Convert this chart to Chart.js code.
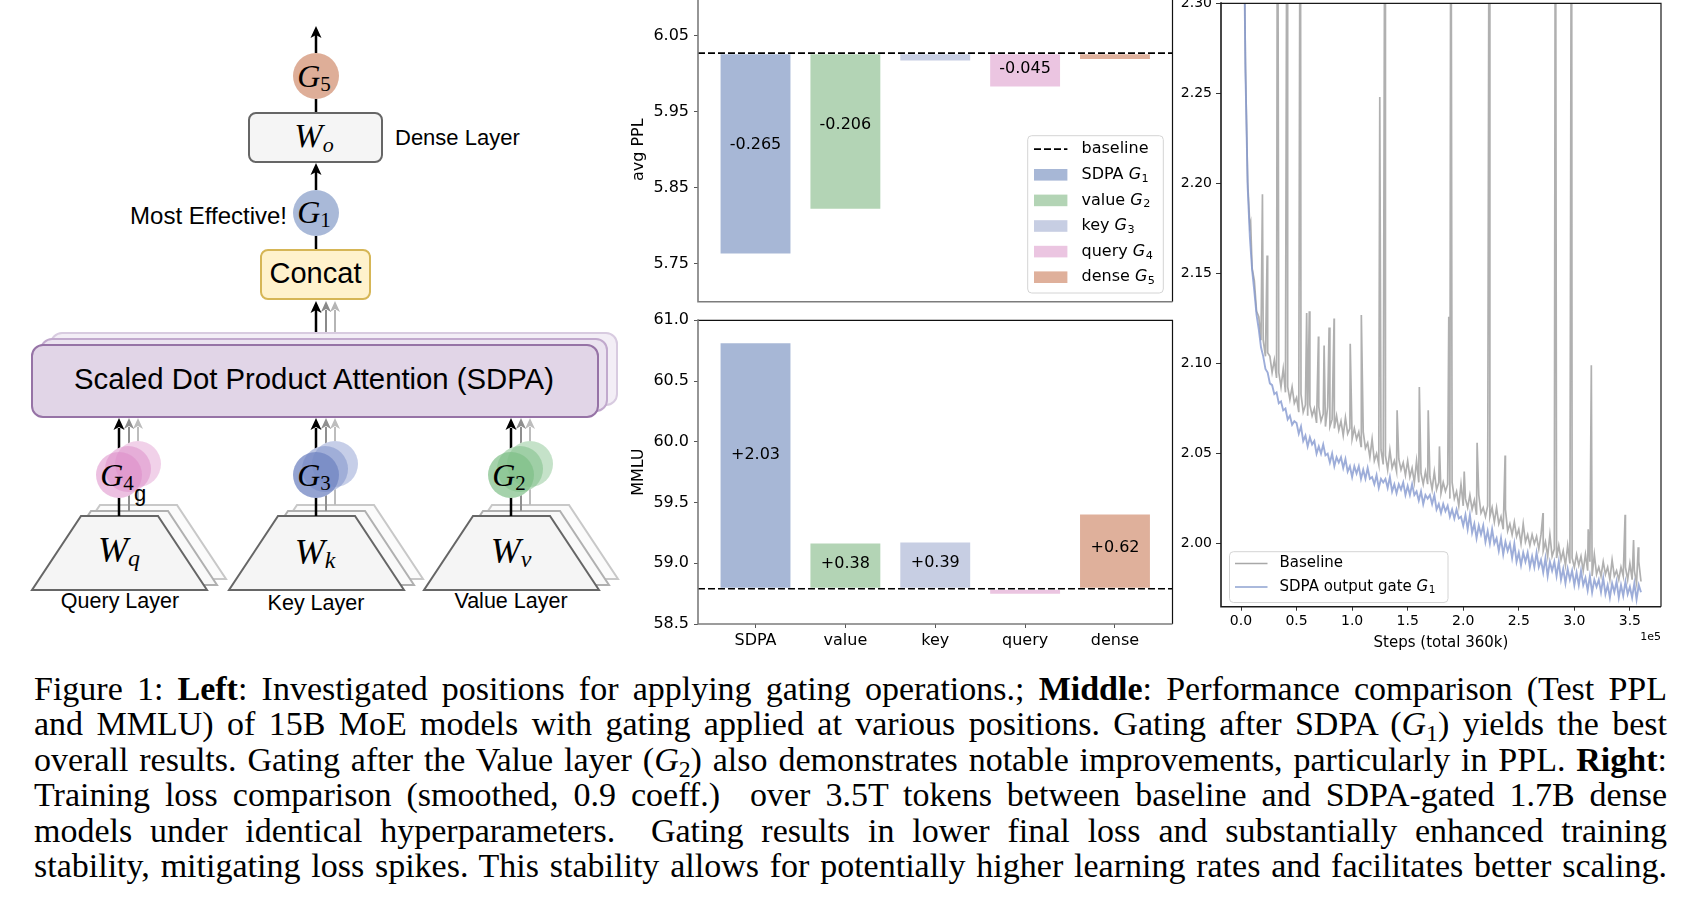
<!DOCTYPE html>
<html><head><meta charset="utf-8">
<script src="https://cdn.jsdelivr.net/npm/chart.js@4.4.1/dist/chart.umd.min.js"></script>
<style>
html,body{margin:0;padding:0;background:#fff;}
body{width:1704px;height:914px;position:relative;overflow:hidden;}
.cv{position:absolute;display:block;}
.ln{position:absolute;left:34px;white-space:pre;font-family:"Liberation Serif","Times New Roman",serif;color:#000;line-height:1;}
.ln sub{font-size:0.7em;vertical-align:-0.25em;line-height:0;}
</style></head><body>

<svg width="640" height="640" viewBox="0 0 640 640" style="position:absolute;left:0;top:0" font-family="'Liberation Sans',Arial,sans-serif">
  <!-- top output arrow -->
  <line x1="316" y1="53" x2="316" y2="34" stroke="#000" stroke-width="2.5"/>
  <polygon points="316,26 310.5,38 316,35 321.5,38" fill="#000"/>
  <circle cx="316" cy="76" r="23" fill="#deae98"/>
  <text x="314" y="87" text-anchor="middle" font-family="'Liberation Serif',serif"><tspan font-style="italic" font-size="32">G</tspan><tspan font-size="21" dy="4">5</tspan></text>
  <line x1="316" y1="99" x2="316" y2="113" stroke="#000" stroke-width="2.5"/>
  <rect x="249" y="113" width="133" height="49" rx="7" fill="#f5f5f5" stroke="#666" stroke-width="2"/>
  <text x="314" y="147" text-anchor="middle" font-family="'Liberation Serif',serif" font-style="italic"><tspan font-size="34">W</tspan><tspan font-size="22" dy="5">o</tspan></text>
  <text x="395" y="145" font-size="22">Dense Layer</text>
  <!-- G1 -->
  <line x1="316" y1="190" x2="316" y2="171" stroke="#000" stroke-width="2.5"/>
  <polygon points="316,163 310.5,175 316,172 321.5,175" fill="#000"/>
  <circle cx="316" cy="213" r="23" fill="#a9b9d8"/>
  <text x="314" y="223" text-anchor="middle" font-family="'Liberation Serif',serif"><tspan font-style="italic" font-size="32">G</tspan><tspan font-size="21" dy="4">1</tspan></text>
  <text x="287" y="224" text-anchor="end" font-size="24">Most Effective!</text>
  <line x1="316" y1="236" x2="316" y2="250" stroke="#000" stroke-width="2.5"/>
  <rect x="261" y="250" width="109" height="49" rx="7" fill="#fff2cc" stroke="#d6b656" stroke-width="2"/>
  <text x="315.5" y="283" text-anchor="middle" font-size="29">Concat</text>
  <!-- arrows from SDPA to concat -->
  <line x1="335" y1="333" x2="335" y2="310" stroke="#b5b5b5" stroke-width="2"/>
  <polygon points="335,301 330,312 335,309 340,312" fill="#b5b5b5"/>
  <line x1="326" y1="339" x2="326" y2="310" stroke="#8a8a8a" stroke-width="2"/>
  <polygon points="326,301 321,312 326,309 331,312" fill="#8a8a8a"/>
  <line x1="316" y1="345" x2="316" y2="310" stroke="#000" stroke-width="2.5"/>
  <polygon points="316,301 310.5,313 316,310 321.5,313" fill="#000"/>
  <!-- SDPA boxes -->
  <rect x="51" y="333" width="566" height="72" rx="11" fill="#f3eef6" stroke="#d8cbe0" stroke-width="2"/>
  <rect x="41" y="339" width="566" height="72" rx="11" fill="#ebe3f0" stroke="#c1a9cd" stroke-width="2"/>
  <rect x="32" y="345" width="566" height="72" rx="11" fill="#e1d5e7" stroke="#9673a6" stroke-width="2"/>
  <text x="314" y="389" text-anchor="middle" font-size="29.3">Scaled Dot Product Attention (SDPA)</text>

  <!-- Query branch -->
  <polygon points="50,579 226,579 177,505 100,505" fill="#fbfbfb" stroke="#c8c8c8" stroke-width="2"/>
  <polygon points="41,585 217,585 168,511 91,511" fill="#f9f9f9" stroke="#b0b0b0" stroke-width="2"/>
  <line x1="138" y1="505" x2="138" y2="427" stroke="#bdbdbd" stroke-width="2"/>
  <polygon points="138,418 133,429 138,426 143,429" fill="#bdbdbd"/>
  <line x1="129" y1="511" x2="129" y2="427" stroke="#8f8f8f" stroke-width="2"/>
  <polygon points="129,418 124,429 129,426 134,429" fill="#8f8f8f"/>
  <polygon points="32,590 207,590 158,516 81,516" fill="#f5f5f5" stroke="#666" stroke-width="2"/>
  <line x1="119" y1="516" x2="119" y2="428" stroke="#000" stroke-width="2.5"/>
  <polygon points="119,418 113.5,430 119,427 124.5,430" fill="#000"/>
  <g>
    <circle cx="138" cy="464" r="23" fill="#fff"/><circle cx="128" cy="469" r="23" fill="#fff"/><circle cx="119" cy="475" r="23" fill="#fff"/>
    <circle cx="138" cy="464" r="23" fill="#dc8cc8" fill-opacity="0.4"/>
    <circle cx="128" cy="469" r="23" fill="#dc8cc8" fill-opacity="0.5"/>
    <circle cx="119" cy="475" r="23" fill="#dc8cc8" fill-opacity="0.55"/>
  </g>
  <text x="117" y="486" text-anchor="middle" font-family="'Liberation Serif',serif"><tspan font-style="italic" font-size="32">G</tspan><tspan font-size="21" dy="4">4</tspan></text>
  <text x="140" y="501" text-anchor="middle" font-size="22">g</text>
  <text x="119" y="562" text-anchor="middle" font-family="'Liberation Serif',serif" font-style="italic"><tspan font-size="36">W</tspan><tspan font-size="24" dy="4">q</tspan></text>
  <text x="120" y="608" text-anchor="middle" font-size="21.5">Query Layer</text>

  <!-- Key branch -->
  <polygon points="247,579 423,579 374,505 297,505" fill="#fbfbfb" stroke="#c8c8c8" stroke-width="2"/>
  <polygon points="238,585 414,585 365,511 288,511" fill="#f9f9f9" stroke="#b0b0b0" stroke-width="2"/>
  <line x1="335" y1="505" x2="335" y2="427" stroke="#bdbdbd" stroke-width="2"/>
  <polygon points="335,418 330,429 335,426 340,429" fill="#bdbdbd"/>
  <line x1="326" y1="511" x2="326" y2="427" stroke="#8f8f8f" stroke-width="2"/>
  <polygon points="326,418 321,429 326,426 331,429" fill="#8f8f8f"/>
  <polygon points="229,590 404,590 355,516 278,516" fill="#f5f5f5" stroke="#666" stroke-width="2"/>
  <line x1="316" y1="516" x2="316" y2="428" stroke="#000" stroke-width="2.5"/>
  <polygon points="316,418 310.5,430 316,427 321.5,430" fill="#000"/>
  <g>
    <circle cx="335" cy="464" r="23" fill="#fff"/><circle cx="325" cy="469" r="23" fill="#fff"/><circle cx="316" cy="475" r="23" fill="#fff"/>
    <circle cx="335" cy="464" r="23" fill="#8193cb" fill-opacity="0.45"/>
    <circle cx="325" cy="469" r="23" fill="#8193cb" fill-opacity="0.55"/>
    <circle cx="316" cy="475" r="23" fill="#7084c2" fill-opacity="0.75"/>
  </g>
  <text x="314" y="486" text-anchor="middle" font-family="'Liberation Serif',serif"><tspan font-style="italic" font-size="32">G</tspan><tspan font-size="21" dy="4">3</tspan></text>
  <text x="315" y="564" text-anchor="middle" font-family="'Liberation Serif',serif" font-style="italic"><tspan font-size="36">W</tspan><tspan font-size="24" dy="4">k</tspan></text>
  <text x="316" y="610" text-anchor="middle" font-size="21.5">Key Layer</text>

  <!-- Value branch -->
  <polygon points="442,579 618,579 569,505 492,505" fill="#fbfbfb" stroke="#c8c8c8" stroke-width="2"/>
  <polygon points="433,585 609,585 560,511 483,511" fill="#f9f9f9" stroke="#b0b0b0" stroke-width="2"/>
  <line x1="530" y1="505" x2="530" y2="427" stroke="#bdbdbd" stroke-width="2"/>
  <polygon points="530,418 525,429 530,426 535,429" fill="#bdbdbd"/>
  <line x1="521" y1="511" x2="521" y2="427" stroke="#8f8f8f" stroke-width="2"/>
  <polygon points="521,418 516,429 521,426 526,429" fill="#8f8f8f"/>
  <polygon points="424,590 599,590 550,516 473,516" fill="#f5f5f5" stroke="#666" stroke-width="2"/>
  <line x1="511" y1="516" x2="511" y2="428" stroke="#000" stroke-width="2.5"/>
  <polygon points="511,418 505.5,430 511,427 516.5,430" fill="#000"/>
  <g>
    <circle cx="530" cy="464" r="23" fill="#fff"/><circle cx="520" cy="469" r="23" fill="#fff"/><circle cx="511" cy="475" r="23" fill="#fff"/>
    <circle cx="530" cy="464" r="23" fill="#7fbf88" fill-opacity="0.45"/>
    <circle cx="520" cy="469" r="23" fill="#7fbf88" fill-opacity="0.55"/>
    <circle cx="511" cy="475" r="23" fill="#7fbf88" fill-opacity="0.7"/>
  </g>
  <text x="509" y="486" text-anchor="middle" font-family="'Liberation Serif',serif"><tspan font-style="italic" font-size="32">G</tspan><tspan font-size="21" dy="4">2</tspan></text>
  <text x="511" y="563" text-anchor="middle" font-family="'Liberation Serif',serif" font-style="italic"><tspan font-size="36">W</tspan><tspan font-size="24" dy="4">v</tspan></text>
  <text x="511" y="608" text-anchor="middle" font-size="21.5">Value Layer</text>
</svg>

<canvas id="ppl" class="cv" width="590" height="340" style="left:600px;top:-20px;width:590px;height:340px"></canvas>
<canvas id="mmlu" class="cv" width="590" height="360" style="left:600px;top:305px;width:590px;height:360px"></canvas>
<canvas id="loss" class="cv" width="544" height="690" style="left:1160px;top:-20px;width:544px;height:690px"></canvas>

<div class="ln" data-base="700">Figure 1: <b>Left</b>: Investigated positions for applying gating operations.; <b>Middle</b>: Performance comparison (Test PPL</div>
<div class="ln" data-base="735.5">and MMLU) of 15B MoE models with gating applied at various positions. Gating after SDPA (<i>G</i><sub>1</sub>) yields the best</div>
<div class="ln" data-base="771">overall results. Gating after the Value layer (<i>G</i><sub>2</sub>) also demonstrates notable improvements, particularly in PPL. <b>Right</b>:</div>
<div class="ln" data-base="806.5">Training loss comparison (smoothed, 0.9 coeff.)  over 3.5T tokens between baseline and SDPA-gated 1.7B dense</div>
<div class="ln" data-base="842">models under identical hyperparameters.  Gating results in lower final loss and substantially enhanced training</div>
<div class="ln" data-base="877.5">stability, mitigating loss spikes. This stability allows for potentially higher learning rates and facilitates better scaling.</div>

<script>
// ---------------- data ----------------
const categories = ['SDPA', 'value', 'key', 'query', 'dense'];
const gateSubs = ['1', '2', '3', '4', '5'];
const barColors = ['#a7b7d6', '#b3d4b5', '#c7cee3', '#ebc5e1', '#dfb09b'];

const pplBaseline = 6.027;
const pplValues = [5.762, 5.821, 6.016, 5.982, 6.018];
const pplLabels = ['-0.265', '-0.206', '', '-0.045', ''];
const pplTicks = [5.75, 5.85, 5.95, 6.05];

const mmluBaseline = 58.79;
const mmluValues = [60.82, 59.17, 59.18, 58.74, 59.41];
const mmluLabels = ['+2.03', '+0.38', '+0.39', '', '+0.62'];
const mmluTicks = [58.5, 59.0, 59.5, 60.0, 60.5, 61.0];

const stepTicks = [0, 50000, 100000, 150000, 200000, 250000, 300000, 350000];
const lossTicks = [2.00, 2.05, 2.10, 2.15, 2.20, 2.25, 2.30];
const steps = Array.from({length: 181}, (_, i) => i * 2000);
const gatedLoss = [
 2.900,2.380,2.262,2.198,2.170,2.152,2.140,2.127,2.119,2.109,
 2.104,2.097,2.095,2.089,2.088,2.083,2.084,2.078,2.079,2.074,
 2.075,2.069,2.071,2.066,2.068,2.067,2.061,2.065,2.057,2.060,
 2.054,2.059,2.055,2.057,2.050,2.054,2.050,2.055,2.049,2.050,
 2.045,2.050,2.043,2.048,2.045,2.048,2.042,2.047,2.040,2.043,
 2.037,2.043,2.039,2.043,2.036,2.041,2.036,2.042,2.036,2.037,
 2.033,2.038,2.031,2.036,2.034,2.036,2.031,2.037,2.029,2.033,
 2.028,2.033,2.030,2.034,2.027,2.032,2.027,2.033,2.027,2.029,
 2.024,2.029,2.022,2.027,2.025,2.027,2.022,2.027,2.019,2.022,
 2.017,2.022,2.018,2.021,2.015,2.019,2.014,2.019,2.014,2.015,
 2.010,2.016,2.008,2.016,2.006,2.011,2.003,2.010,2.005,2.010,
 2.001,2.007,2.000,2.008,2.000,2.003,1.996,2.003,1.994,2.001,
 1.996,2.000,1.992,2.000,1.990,1.995,1.988,1.995,1.990,1.995,
 1.987,1.993,1.987,1.995,1.987,1.991,1.984,1.992,1.982,1.990,
 1.985,1.990,1.982,1.990,1.980,1.986,1.978,1.986,1.980,1.985,
 1.977,1.984,1.977,1.985,1.977,1.981,1.974,1.982,1.973,1.980,
 1.976,1.980,1.973,1.981,1.972,1.977,1.970,1.978,1.973,1.979,
 1.970,1.977,1.971,1.979,1.972,1.976,1.970,1.978,1.969,1.977,
 1.973];
const baselineLoss = [
 2.900,2.385,2.266,2.201,2.176,2.153,2.146,2.129,2.126,2.113,
 2.113,2.104,2.106,2.104,2.095,2.102,2.092,2.095,2.087,2.097,
 2.084,2.087,2.080,2.087,2.078,2.081,2.073,2.083,2.073,2.077,
 2.071,2.077,2.071,2.075,2.067,2.076,2.068,2.072,2.065,2.076,
 2.065,2.069,2.064,2.071,2.063,2.068,2.060,2.070,2.061,2.064,
 2.058,2.064,2.058,2.062,2.054,2.062,2.053,2.056,2.048,2.058,
 2.046,2.050,2.044,2.052,2.044,2.049,2.041,2.052,2.042,2.046,
 2.040,2.047,2.041,2.045,2.038,2.046,2.037,2.042,2.034,2.046,
 2.034,2.039,2.033,2.040,2.033,2.037,2.030,2.040,2.030,2.034,
 2.028,2.034,2.029,2.033,2.025,2.034,2.025,2.029,2.021,2.033,
 2.021,2.025,2.020,2.027,2.019,2.024,2.016,2.027,2.017,2.020,
 2.015,2.021,2.015,2.020,2.012,2.020,2.011,2.015,2.008,2.019,
 2.007,2.011,2.005,2.012,2.004,2.008,2.000,2.011,2.001,2.005,
 1.999,2.005,2.000,2.004,1.997,2.005,1.996,2.001,1.993,2.005,
 1.993,1.997,1.992,1.999,1.991,1.996,1.988,1.999,1.989,1.992,
 1.987,1.994,1.988,1.993,1.985,1.994,1.985,1.990,1.982,1.994,
 1.983,1.987,1.982,1.990,1.983,1.987,1.980,1.991,1.982,1.985,
 1.980,1.987,1.982,1.987,1.980,1.989,1.980,1.985,1.978,1.990,
 1.979];
const spikeSteps = [8700, 19300, 23500, 32900, 41600, 53400, 59100, 61500, 69700, 74800, 79300, 83800, 98300, 108300, 124900, 129700, 140500, 160500, 168500, 178600, 187000, 188900, 200900, 212500, 223500, 237700, 271800, 283000, 297500, 312500, 315300, 345700, 353300, 357500];
const spikePeaks = [2.178, 2.194, 2.160, 2.45, 2.45, 2.45, 2.128, 2.129, 2.115, 2.110, 2.120, 2.125, 2.111, 2.127, 2.248, 2.45, 2.074, 2.087, 2.074, 2.054, 2.126, 2.45, 2.040, 2.056, 2.45, 2.049, 2.017, 2.45, 2.45, 2.008, 2.099, 2.016, 2.002, 1.998];

// ---------------- helpers ----------------
Chart.defaults.font.family = "'DejaVu Sans', sans-serif";
Chart.defaults.color = '#000';
Chart.defaults.animation = false;

function gLabel(ctx, x, y, name, sub, size) {
  ctx.textAlign = 'left'; ctx.textBaseline = 'middle';
  ctx.font = size + "px 'DejaVu Sans'";
  const pre = name + ' ';
  ctx.fillText(pre, x, y);
  let w = ctx.measureText(pre).width;
  ctx.font = "italic " + size + "px 'DejaVu Sans'";
  ctx.fillText('G', x + w, y);
  w += ctx.measureText('G').width;
  ctx.font = (size * 0.7) + "px 'DejaVu Sans'";
  ctx.fillText(sub, x + w + 0.5, y + size * 0.25);
}
function rrect(ctx, x, y, w, h, r) {
  ctx.beginPath();
  ctx.moveTo(x + r, y); ctx.lineTo(x + w - r, y); ctx.arcTo(x + w, y, x + w, y + r, r);
  ctx.lineTo(x + w, y + h - r); ctx.arcTo(x + w, y + h, x + w - r, y + h, r);
  ctx.lineTo(x + r, y + h); ctx.arcTo(x, y + h, x, y + h - r, r);
  ctx.lineTo(x, y + r); ctx.arcTo(x, y, x + r, y, r); ctx.closePath();
}
function spines(chart, lbColor, trColor) {
  const {ctx, chartArea: a} = chart;
  ctx.save();
  ctx.lineWidth = 1.2; ctx.strokeStyle = trColor;
  ctx.beginPath(); ctx.moveTo(a.left, a.top); ctx.lineTo(a.right, a.top); ctx.lineTo(a.right, a.bottom); ctx.stroke();
  ctx.lineWidth = 1.6; ctx.strokeStyle = lbColor;
  ctx.beginPath(); ctx.moveTo(a.left, a.top - 1); ctx.lineTo(a.left, a.bottom); ctx.lineTo(a.right, a.bottom); ctx.stroke();
  ctx.restore();
}

function barDecor(baseline, labels, withLegend) {
  return {
    id: 'barDecor',
    afterDatasetsDraw(chart) {
      const {ctx, chartArea: a, scales: {y}} = chart;
      const by = y.getPixelForValue(baseline);
      ctx.save();
      ctx.strokeStyle = '#000'; ctx.lineWidth = 1.7; ctx.setLineDash([7, 3]);
      ctx.beginPath(); ctx.moveTo(a.left, by); ctx.lineTo(a.right, by); ctx.stroke();
      ctx.setLineDash([]);
      ctx.font = "16px 'DejaVu Sans'"; ctx.fillStyle = '#000';
      ctx.textAlign = 'center'; ctx.textBaseline = 'middle';
      chart.getDatasetMeta(0).data.forEach((el, i) => {
        if (!labels[i]) return;
        const t = Math.min(el.y, el.base), b = Math.max(el.y, el.base);
        ctx.fillText(labels[i], el.x, (t + b) / 2 - 0.045 * (b - t));
      });
      ctx.restore();
      spines(chart, '#7c7c7c', '#111');
      if (withLegend) {
        const w = 135.6, h = 157.3;
        const bx = a.right - 9.2 - w, byy = a.bottom - 8.7 - h;
        ctx.save();
        rrect(ctx, bx, byy, w, h, 4);
        ctx.fillStyle = 'rgba(255,255,255,0.85)'; ctx.fill();
        ctx.strokeStyle = '#d4d4d4'; ctx.lineWidth = 1; ctx.stroke();
        for (let k = 0; k < 6; k++) {
          const ry = byy + 13.5 + 25.6 * k;
          ctx.fillStyle = '#000';
          if (k === 0) {
            ctx.strokeStyle = '#000'; ctx.lineWidth = 1.7; ctx.setLineDash([7, 3]);
            ctx.beginPath(); ctx.moveTo(bx + 6.3, ry); ctx.lineTo(bx + 39.7, ry); ctx.stroke();
            ctx.setLineDash([]);
            ctx.font = "16px 'DejaVu Sans'"; ctx.textAlign = 'left'; ctx.textBaseline = 'middle';
            ctx.fillText('baseline', bx + 53.8, ry);
          } else {
            ctx.fillStyle = barColors[k - 1];
            ctx.fillRect(bx + 6.3, ry - 5.8, 33.4, 11.6);
            ctx.fillStyle = '#000';
            gLabel(ctx, bx + 53.8, ry, categories[k - 1], gateSubs[k - 1], 16);
          }
        }
        ctx.restore();
      }
    }
  };
}

function barChart(id, baseline, values, labels, ticks, ymin, ymax, showX, yTitle, dec, legend, pad, xH) {
  return new Chart(document.getElementById(id), {
    type: 'bar',
    data: {
      datasets: [{
        data: categories.map((c, i) => ({x: i, y: [baseline, values[i]]})),
        backgroundColor: barColors,
        borderColor: 'rgba(255,255,255,0.55)',
        borderWidth: 1,
        borderSkipped: false,
        barPercentage: 0.8,
        categoryPercentage: 1.0
      }]
    },
    options: {
      responsive: false,
      animation: false,
      layout: {padding: pad},
      plugins: {legend: {display: false}, tooltip: {enabled: false}},
      scales: {
        x: {
          type: 'linear', min: -0.64, max: 4.64, offset: false,
          afterBuildTicks: ax => { ax.ticks = categories.map((c, i) => ({value: i})); },
          afterFit: s => { s.height = xH; },
          ticks: {display: showX, autoSkip: false, maxRotation: 0, padding: 3,
                  font: {size: 16}, color: '#000', callback: v => categories[v]},
          grid: {display: showX, offset: false, drawOnChartArea: false, drawTicks: true, tickLength: 4, color: '#555'},
          border: {display: false}
        },
        y: {
          type: 'linear', min: ymin, max: ymax,
          afterBuildTicks: ax => { ax.ticks = ticks.map(v => ({value: v})); },
          afterFit: s => { s.width = 98; },
          ticks: {padding: 5, font: {size: 16}, color: '#000', callback: v => Number(v).toFixed(dec)},
          grid: {display: true, drawOnChartArea: false, drawTicks: true, tickLength: 4, color: '#555'},
          border: {display: false},
          title: {display: true, text: yTitle, font: {size: 16}, color: '#000', padding: {top: 29.4, bottom: 0}}
        }
      }
    },
    plugins: [barDecor(baseline, labels, legend)]
  });
}

barChart('ppl', pplBaseline, pplValues, pplLabels, pplTicks, 5.70, 6.10, false, 'avg PPL', 2, true,
         {top: 17.7, right: 17.5, bottom: 18.3, left: 0}, 0);
barChart('mmlu', mmluBaseline, mmluValues, mmluLabels, mmluTicks, 58.5, 61.0, true, 'MMLU', 1, false,
         {top: 15.3, right: 17.5, bottom: 0, left: 0}, 41);

// ---------------- loss chart ----------------
const basePts = steps.map((s, i) => ({x: s, y: baselineLoss[i]}))
  .concat(spikeSteps.map((s, i) => ({x: s, y: spikePeaks[i]})))
  .sort((p, q) => p.x - q.x);
const gatedPts = steps.map((s, i) => ({x: s, y: gatedLoss[i]}));

const lossDecor = {
  id: 'lossDecor',
  afterDatasetsDraw(chart) {
    const {ctx, chartArea: a} = chart;
    spines(chart, '#1a1a1a', '#1a1a1a');
    ctx.save();
    const w = 218.5, h = 50.8;
    const bx = a.left + 8.5, by = a.bottom - 4.2 - h;
    rrect(ctx, bx, by, w, h, 4);
    ctx.fillStyle = 'rgba(255,255,255,0.85)'; ctx.fill();
    ctx.strokeStyle = '#d4d4d4'; ctx.lineWidth = 1; ctx.stroke();
    const rows = [by + 11.9, by + 35.3];
    ctx.lineWidth = 1.5;
    ctx.strokeStyle = '#a8a8a8';
    ctx.beginPath(); ctx.moveTo(bx + 5.5, rows[0]); ctx.lineTo(bx + 38, rows[0]); ctx.stroke();
    ctx.strokeStyle = '#8ea2d0';
    ctx.beginPath(); ctx.moveTo(bx + 5.5, rows[1]); ctx.lineTo(bx + 38, rows[1]); ctx.stroke();
    ctx.fillStyle = '#000'; ctx.font = "15px 'DejaVu Sans'"; ctx.textAlign = 'left'; ctx.textBaseline = 'middle';
    ctx.fillText('Baseline', bx + 50, rows[0]);
    gLabel(ctx, bx + 50, rows[1], 'SDPA output gate', '1', 15);
    ctx.font = "11px 'DejaVu Sans'"; ctx.textAlign = 'right'; ctx.textBaseline = 'middle';
    ctx.fillStyle = '#000';
    ctx.fillText('1e5', a.right, a.bottom + 30.3);
    ctx.restore();
  }
};

new Chart(document.getElementById('loss'), {
  type: 'line',
  data: {
    datasets: [
      {label: 'SDPA output gate G1', data: gatedPts, borderColor: 'rgba(132,153,208,0.8)', borderWidth: 1.9,
       pointRadius: 0, tension: 0, order: 1, clip: 0},
      {label: 'Baseline', data: basePts, borderColor: '#b0b0b0', borderWidth: 1.7,
       pointRadius: 0, tension: 0, order: 2, clip: 0}
    ]
  },
  options: {
    responsive: false,
    animation: false,
    layout: {padding: {top: 23.3, right: 43, bottom: 0, left: 0}},
    plugins: {legend: {display: false}, tooltip: {enabled: false}},
    scales: {
      x: {
        type: 'linear', min: -18000, max: 378000,
        afterBuildTicks: ax => { ax.ticks = stepTicks.map(v => ({value: v})); },
        afterFit: s => { s.height = 63.3; },
        ticks: {padding: 2.6, font: {size: 14}, color: '#000', autoSkip: false, maxRotation: 0,
                callback: v => (v / 1e5).toFixed(1)},
        grid: {display: true, drawOnChartArea: false, drawTicks: true, tickLength: 4, color: '#333'},
        border: {display: false},
        title: {display: true, text: 'Steps (total 360k)', font: {size: 15}, color: '#000', padding: {top: 0, bottom: 18}}
      },
      y: {
        type: 'linear', min: 1.965, max: 2.30,
        afterBuildTicks: ax => { ax.ticks = lossTicks.map(v => ({value: v})); },
        afterFit: s => { s.width = 61; },
        ticks: {padding: 4, font: {size: 14}, color: '#000', callback: v => Number(v).toFixed(2)},
        grid: {display: true, drawOnChartArea: false, drawTicks: true, tickLength: 5, color: '#333'},
        border: {display: false}
      }
    }
  },
  plugins: [lossDecor]
});

// ---------------- caption fitting ----------------
function fitCaption() {
  const lines = Array.from(document.querySelectorAll('.ln'));
  const target = 1633;
  let fs = 34;
  lines.forEach(l => { l.style.fontSize = fs + 'px'; l.style.wordSpacing = '0px'; });
  const need = lines.map(l => {
    const n = (l.textContent.match(/ /g) || []).length;
    return (l.getBoundingClientRect().width - target) / Math.max(n, 1);
  });
  const worst = Math.max(...need);
  if (worst > 2) {
    const l = lines[need.indexOf(worst)];
    fs = fs * (target + 2 * (l.textContent.match(/ /g) || []).length) / l.getBoundingClientRect().width;
    lines.forEach(x => { x.style.fontSize = fs + 'px'; });
  }
  lines.forEach(l => {
    const base = parseFloat(l.dataset.base);
    l.style.top = (base - 0.8375 * fs) + 'px';
    const w = l.getBoundingClientRect().width;
    const n = (l.textContent.match(/ /g) || []).length;
    if (n > 0) l.style.wordSpacing = ((target - w) / n) + 'px';
  });
}
fitCaption();
if (document.fonts && document.fonts.ready) document.fonts.ready.then(fitCaption);
</script>
</body></html>
